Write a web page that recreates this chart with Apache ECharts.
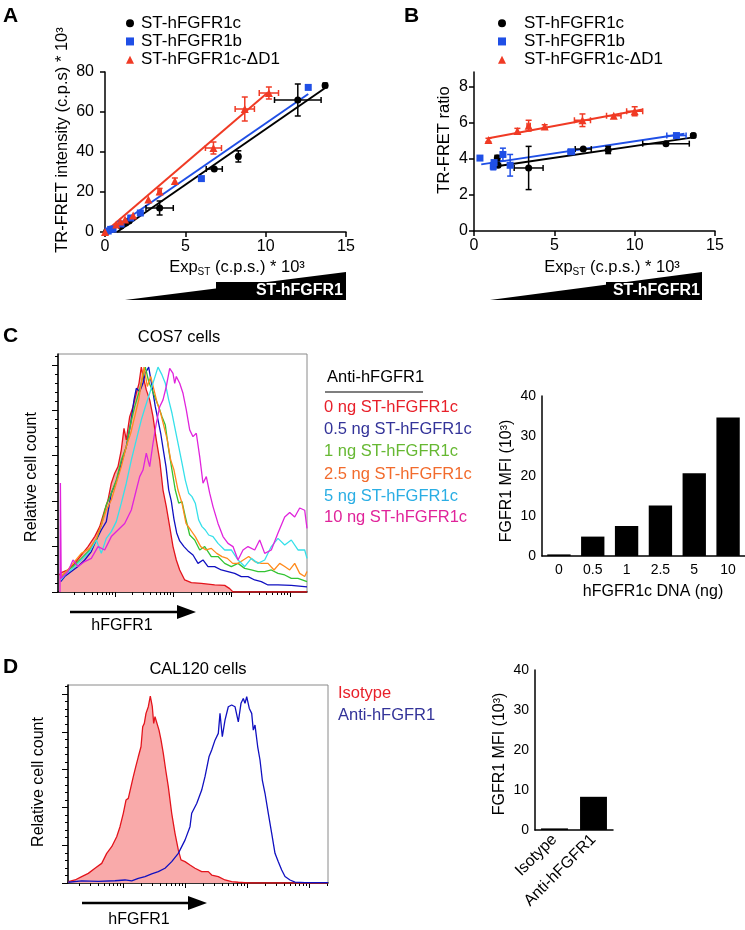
<!DOCTYPE html>
<html><head><meta charset="utf-8">
<script src="https://cdn.jsdelivr.net/npm/echarts@6/dist/echarts.min.js"></script>
<style>html,body{margin:0;padding:0;background:#fff}#c{width:745px;height:930px}</style>
</head><body><div id="c"></div>
<script>
const FONT = '"Liberation Sans", Arial, Helvetica, sans-serif';

// ---------- Panel A / B data: [x, y, xErr, yErr] ----------
const seriesNames = ['ST-hFGFR1c', 'ST-hFGFR1b', 'ST-hFGFR1c-ΔD1'];
const A_c  = [[0.1,0.3,0,0],[1.0,3.0,0,0],[1.3,4.5,0,0],[1.5,5.5,0,0],[3.4,12,0.85,3.5],[6.8,31.5,0.5,0],[8.3,37.8,0.1,2.8],[12.0,66,1.45,8],[13.7,73.3,0.1,1]];
const A_b  = [[0.2,0.5,0,0],[0.35,1.3,0,0],[0.5,1.5,0,0],[1.0,4,0,0],[1.6,7,0,0],[2.2,9.5,0,0],[6.0,26.7,0,0],[12.65,72.3,0,0]];
const A_d1 = [[0,0,0,0],[0.7,3.7,0,0],[0.95,5.3,0,0],[1.25,6.2,0,0],[1.75,8.2,0,0],[2.7,16.2,0,0],[3.4,20.3,0.1,1.5],[4.35,25.5,0,1.5],[6.75,42,0.5,3],[8.7,61.5,0.6,6],[10.2,69.5,0.6,3]];
const A_fit_c  = [[0.75,0],[13.7,72]];
const A_fit_b  = [[0.2,0],[12.65,69]];
const A_fit_d1 = [[0,0],[10.1,69.5]];

const B_c  = [[1.45,4.05,0,0.15],[1.5,3.65,0,0],[3.4,3.5,0.9,1.2],[6.8,4.55,0.5,0],[8.35,4.5,0.1,0.2],[11.95,4.85,1.45,0],[13.65,5.3,0.1,0.1]];
const B_b  = [[0.37,4.05,0,0.1],[1.2,3.6,0,0.2],[1.25,3.8,0,0],[1.8,4.25,0,0.35],[2.25,3.65,0,0.6],[6.05,4.4,0.2,0],[12.6,5.3,0.6,0.1]];
const B_d1 = [[0.9,5.05,0,0.1],[2.7,5.55,0,0.15],[3.4,5.85,0.1,0.3],[4.4,5.8,0,0.1],[6.75,6.15,0.5,0.35],[8.7,6.4,0.45,0],[10.0,6.65,0.5,0.25]];
const B_fit_c  = [[1.2,3.57],[13.65,5.2]];
const B_fit_b  = [[0.45,3.7],[13.1,5.4]];
const B_fit_d1 = [[0.9,5.15],[10.5,6.75]];

// ---------- Panel C histograms: [channel, % of max] ----------
const C_names = ['0 ng ST-hFGFR1c','0.5 ng ST-hFGFR1c','1 ng ST-hFGFR1c','2.5 ng ST-hFGFR1c','5 ng ST-hFGFR1c','10 ng ST-hFGFR1c'];
const C_red = [[1,7.5],[3.3,8.5],[10,9.7],[16.7,12.6],[23.3,16.3],[30,20],[36.7,24.4],[41.7,28.8],[46.7,36.1],[50,40.5],[53.3,47.9],[56.7,52.3],[60,55.2],[63.3,62.6],[66,72.1],[68.3,67],[71.7,77.2],[75,81.6],[78.3,87.5],[81,91.9],[83.3,99],[86,93.4],[88.3,89],[91.7,84.6],[95,77.2],[98.3,67],[101.7,58.1],[105,44.9],[108.3,37.6],[111.7,28.8],[115,20],[118.3,14.1],[121.7,9.7],[126.7,5.3],[133.3,4.1],[143.3,3.8],[156.7,3.1],[166.7,2.9],[171.7,1.5],[175,0],[249,0]];
const C_blue = [[2.7,4.6],[6.7,6.8],[13.3,9],[20,11.2],[26.7,14.1],[33.3,17.8],[38.3,22.9],[43.3,27.3],[48.3,31],[53.3,43.5],[58.3,48.6],[63.3,56.7],[68.3,64],[72.7,74.3],[76,84.6],[78.3,89.7],[81.7,88.3],[85,91.9],[87.3,96.3],[90.7,99],[94,90.5],[97.3,81.6],[100,75.8],[102.7,69.9],[105.3,62.6],[108,55.2],[110.7,45],[113.3,40],[116,32],[118.7,26],[121.7,22.5],[126,20],[130.7,17.8],[135,16.3],[140,12.6],[145,14.1],[150,11.2],[156.7,11.2],[163.3,9.7],[170,9],[176.7,8.2],[183.3,6.8],[190,6.8],[196.7,5.3],[203.3,4.6],[210,3.1],[220,3.1],[233.3,2.9],[249,2.3]];
const C_green = [[2.7,6],[8.3,9],[15,11.2],[23.3,14.8],[31.7,18.5],[38.3,22.9],[43.3,29.5],[48.3,38.3],[53.3,43.5],[58.3,49.3],[63.3,58.1],[68.3,64],[72.7,74.3],[76.7,81.6],[80.7,87.5],[84,93.4],[87.3,99],[90.7,92.7],[94,89],[97.3,85.3],[100.7,81.6],[104,77.2],[107.3,73.5],[110.7,62.6],[114,53.7],[117.3,44.9],[120.7,39.1],[124,39.8],[127.3,33.2],[131.7,25.1],[136.7,22.9],[141.7,18.5],[146.7,20],[153.3,15.6],[160,15.6],[166.7,12.6],[173.3,11.2],[180,12.6],[186.7,10.4],[193.3,9.7],[200,9],[206.7,9],[213.3,9.7],[220,8.2],[226.7,7.5],[233.3,6],[240,6],[249,4.6]];
const C_orange = [[2.7,6.8],[8.3,9],[15,12.6],[23.3,17],[31.7,19.2],[38.3,23.6],[43.3,29.5],[48.3,36.1],[53.3,40.5],[58.3,47.9],[63.3,55.2],[68.3,64],[72.7,69.9],[76.7,77.2],[80.7,84.6],[83.3,91.9],[86,99],[89.3,90.5],[92.7,94.9],[96,89],[99.3,83.1],[102.7,78.7],[106,72.8],[109.3,67],[112.7,58.1],[116,53.7],[120,44.9],[124,39.1],[128,30.2],[132.7,27.3],[137.3,24.4],[142.7,20],[148,18.5],[153.3,19.2],[158.7,17],[164,15.6],[169.3,14.8],[174.7,12.6],[180,12.6],[185.3,14.1],[190.7,15.6],[196.7,13.4],[203.3,12.6],[210,12.6],[216,9.7],[221.7,12.6],[226.7,11.2],[231.7,9.7],[236.7,12.6],[241.7,8.2],[246.7,6.8],[249,9]];
const C_cyan = [[2.7,5.3],[8.3,8.2],[15,10.4],[23.3,14.1],[31.7,17.8],[38.3,22.9],[43.3,17],[48.3,23.6],[53.3,26.6],[58.3,31],[63.3,39.1],[68.3,47.9],[73.3,58.1],[78.3,67],[83.3,75.8],[87.3,81.6],[91.7,87.5],[96,93.4],[100,99],[104,95.6],[107.3,91.9],[110.7,84.6],[114,78.7],[117.3,71.4],[120.7,64],[124,56.7],[127.3,49.3],[130.7,43.5],[134,42],[137.3,39.1],[140.7,31.7],[144,28.8],[147.3,27.3],[150.7,25.1],[155,24.4],[160,21.4],[166.7,18.5],[173.3,18.5],[180,14.1],[186.7,11.2],[193.3,14.8],[200,12.6],[206.7,14.1],[213.3,20],[220,23.6],[226.7,20.7],[233.3,22.9],[240,18.5],[246.7,18.5],[249,14.8]];
const C_magenta = [[2,0],[2.4,48],[3.2,6],[10,9],[15,14.1],[20,11.2],[26.7,13.4],[33.3,14.8],[40,20],[46.7,18.5],[53.3,24.4],[60,27.3],[66.7,30.2],[73.3,36.1],[78.3,44.9],[81.7,50.8],[85,53.7],[88.3,61.1],[91.7,55.2],[95,65.5],[98.3,74.3],[101.7,81.6],[105,84.6],[108.3,90.5],[111.7,98.5],[115,96.3],[116.7,91.9],[118.3,94.9],[121.7,91.9],[125,87.5],[128.3,80.2],[131.7,71.4],[135,68.4],[138.3,69.9],[141.7,59.6],[145,47.9],[148.3,50.8],[151.7,43.5],[155,37.6],[160,30.2],[165,24.4],[170,21.4],[175,20],[180,14.1],[185,18.5],[190,20],[196.7,18.5],[201.7,22.9],[206.7,17],[213.3,18.5],[220,26],[226.7,33],[231.7,35],[236.7,33],[241.7,37],[246.7,36],[249,28]];

// ---------- Panel C bar ----------
const C_barCats = ['0','0.5','1','2.5','5','10'];
const C_barVals = [0.4, 4.85, 7.5, 12.6, 20.7, 34.6];

// ---------- Panel D histograms ----------
const D_red = [[0.3,0.7],[7,1.6],[13.7,3.4],[20.3,5.1],[27,7.8],[33.7,10.4],[38.7,15.7],[43.7,19.2],[48.7,24.5],[52,29.8],[55.3,36.9],[58,43.9],[60.3,44.8],[63,51],[65.3,56.3],[67.7,61.5],[70.3,66.8],[73,72.1],[74.7,82.7],[76.3,84.5],[78,89.8],[80.3,93.3],[82.3,98.9],[84.3,93.3],[85.7,84.5],[87,88],[89,88],[91,80.9],[93,75.7],[95.3,68.6],[97.7,59.8],[100.3,51],[103.7,36.9],[107,26.3],[110.3,17.5],[113,12.2],[117,11.3],[122,9.5],[127,7.8],[133.7,6],[140.3,6],[143.7,4.2],[150.3,3.4],[157,1.6],[163.7,0.7],[170.3,0.4],[180.3,0],[260,0]];
const D_blue = [[0.3,0.4],[13.7,1.1],[30.3,0.9],[47,1.2],[57,1.6],[63.7,1.1],[70.3,2.5],[77,3.4],[83.7,4.8],[90.3,6],[97,7.8],[103.7,11.3],[110.3,15.7],[117,22.7],[122,29.8],[123.7,36.9],[128.7,42.1],[133.7,49.2],[137,56.3],[141,66.8],[143.7,70.4],[147,75.6],[150.3,79.2],[152,89.8],[154.3,77.4],[157,86.2],[160.3,93.3],[163.7,94.2],[167,93.3],[170.3,85.3],[173,95.1],[175.3,97.7],[177,95.1],[178.7,98.6],[181.3,92.4],[183.7,89.8],[185.3,80.9],[187,83.6],[189.7,72.1],[192,65.1],[194.3,54.5],[197,47.5],[200.3,36.9],[203.7,26.3],[207,15.7],[210.3,11.3],[213.7,6.9],[217,3.4],[222,1.6],[227,0.5],[237,0.2],[260,0.2]];
const D_names = ['Isotype', 'Anti-hFGFR1'];
const D_barCats = ['Isotype', 'Anti-hFGFR1'];
const D_barVals = [0.4, 8.3];

// ---------- axis tick helpers ----------
const C_decades = [-1.3, 57, 115.3, 173.6, 231.9];
const D_decades = [-7, 55, 117, 179, 241];
function logTicks(decades, step, maxCh) {
  const minor = [], major = [];
  decades.forEach(d => {
    for (let k = 1; k <= 9; k++) {
      const v = d + step * Math.log10(k);
      if (v >= 0 && v <= maxCh) (k === 1 ? major : minor).push(+v.toFixed(2));
    }
  });
  return { minor, major };
}
const Cx = logTicks(C_decades, 58.3, 249);
const Dx = logTicks(D_decades, 62, 260);
const histMajorY = [0, 20, 40, 60, 80, 100];
const histMinorY = [];
for (let v = 4; v <= 104; v += 4) if (v % 20) histMinorY.push(v);

const COL = { black: '#000000', blue: '#1f4fe6', red: '#f03a24' };
const HC = { red: '#e3141c', blue: '#1010c0', green: '#33c433', orange: '#ff8a1c', cyan: '#36e0ea', magenta: '#e024dc' };

const axLine = { show: true, lineStyle: { color: '#000', width: 1.5 } };
const lbl = { color: '#000', fontSize: 14, fontFamily: FONT };
const lblAB = { color: '#000', fontSize: 16, fontFamily: FONT };

function errRender(color) {
  return function (params, api) {
    const x = api.value(0), y = api.value(1), xe = api.value(2), ye = api.value(3);
    const ch = [], cap = 3, st = { stroke: color, lineWidth: 1.5 };
    if (ye > 0) {
      const p1 = api.coord([x, y - ye]), p2 = api.coord([x, y + ye]);
      ch.push({ type: 'line', shape: { x1: p1[0], y1: p1[1], x2: p2[0], y2: p2[1] }, style: st });
      ch.push({ type: 'line', shape: { x1: p1[0] - cap, y1: p1[1], x2: p1[0] + cap, y2: p1[1] }, style: st });
      ch.push({ type: 'line', shape: { x1: p2[0] - cap, y1: p2[1], x2: p2[0] + cap, y2: p2[1] }, style: st });
    }
    if (xe > 0) {
      const p1 = api.coord([x - xe, y]), p2 = api.coord([x + xe, y]);
      ch.push({ type: 'line', shape: { x1: p1[0], y1: p1[1], x2: p2[0], y2: p2[1] }, style: st });
      ch.push({ type: 'line', shape: { x1: p1[0], y1: p1[1] - cap, x2: p1[0], y2: p1[1] + cap }, style: st });
      ch.push({ type: 'line', shape: { x1: p2[0], y1: p2[1] - cap, x2: p2[0], y2: p2[1] + cap }, style: st });
    }
    return { type: 'group', children: ch };
  };
}

function scatterSet(ax, data, name, color, symbol, size) {
  return [
    { type: 'custom', xAxisIndex: ax, yAxisIndex: ax, data: data, encode: { x: 0, y: 1 }, renderItem: errRender(color), z: 3, silent: true },
    { type: 'scatter', name: name, xAxisIndex: ax, yAxisIndex: ax, data: data.map(d => [d[0], d[1]]), symbol: symbol, symbolSize: size, itemStyle: { color: color, opacity: 1 }, z: 4 }
  ];
}
function fitLine(ax, data, color) {
  return { type: 'line', xAxisIndex: ax, yAxisIndex: ax, data: data, showSymbol: false, symbol: 'none', lineStyle: { color: color, width: 2 }, z: 2, silent: true };
}
function histLine(xa, ya, data, color, fill) {
  const s = { type: 'line', xAxisIndex: xa, yAxisIndex: ya, data: data, showSymbol: false, symbol: 'none', lineStyle: { color: color, width: 1.3 }, z: 2, silent: true };
  if (fill) { s.areaStyle = { color: fill, opacity: 1 }; s.z = 1; }
  return s;
}

const series = [].concat(
  scatterSet(0, A_c, seriesNames[0], COL.black, 'circle', 7),
  scatterSet(0, A_b, seriesNames[1], COL.blue, 'rect', 7),
  scatterSet(0, A_d1, seriesNames[2], COL.red, 'triangle', 8),
  [fitLine(0, A_fit_c, COL.black), fitLine(0, A_fit_b, COL.blue), fitLine(0, A_fit_d1, COL.red)],
  scatterSet(1, B_c, seriesNames[0], COL.black, 'circle', 7),
  scatterSet(1, B_b, seriesNames[1], COL.blue, 'rect', 7),
  scatterSet(1, B_d1, seriesNames[2], COL.red, 'triangle', 8),
  [fitLine(1, B_fit_c, COL.black), fitLine(1, B_fit_b, COL.blue), fitLine(1, B_fit_d1, COL.red)],
  [
    histLine(2, 2, C_red, HC.red, '#f9aaaa'),
    histLine(2, 2, C_blue, HC.blue),
    histLine(2, 2, C_green, HC.green),
    histLine(2, 2, C_orange, HC.orange),
    histLine(2, 2, C_cyan, HC.cyan),
    histLine(2, 2, C_magenta, HC.magenta),
    { type: 'bar', xAxisIndex: 4, yAxisIndex: 4, data: C_barVals, barWidth: '69%', itemStyle: { color: '#000' }, silent: true },
    histLine(5, 5, D_red, HC.red, '#f9aaaa'),
    histLine(5, 5, D_blue, HC.blue),
    { type: 'bar', xAxisIndex: 7, yAxisIndex: 7, data: D_barVals, barWidth: '69%', itemStyle: { color: '#000' }, silent: true }
  ]
);

const hidden = { show: false };
function histX(gi, max, ticks, len, showLine) {
  return { type: 'value', gridIndex: gi, position: 'bottom', min: 0, max: max,
    axisLine: showLine ? axLine : { show: false },
    axisTick: { show: true, inside: false, length: len, customValues: ticks, lineStyle: { color: '#000', width: 1 } },
    axisLabel: hidden, splitLine: hidden };
}
function histY(gi, ticks, len, showLine) {
  return { type: 'value', gridIndex: gi, position: 'left', min: 0, max: 104.8,
    axisLine: showLine ? axLine : { show: false },
    axisTick: { show: true, length: len, customValues: ticks, lineStyle: { color: '#000', width: 1 } },
    axisLabel: hidden, splitLine: hidden };
}

const option = {
  animation: false,
  backgroundColor: '#fff',
  textStyle: { fontFamily: FONT },
  grid: [
    { left: 105, top: 72, width: 241, height: 160 },
    { left: 474, top: 72, width: 241, height: 159 },
    { left: 58, top: 354, width: 249, height: 238, show: true, borderColor: '#8a8a8a', borderWidth: 1 },
    { left: 542, top: 396, width: 203, height: 160 },
    { left: 68, top: 685, width: 260, height: 198, show: true, borderColor: '#8a8a8a', borderWidth: 1 },
    { left: 535, top: 670, width: 78, height: 160 }
  ],
  xAxis: [
    { type: 'value', gridIndex: 0, min: 0, max: 15, interval: 5, axisLine: axLine, axisTick: { length: 5, lineStyle: { color: '#000', width: 1.5 } }, axisLabel: Object.assign({ margin: 7 }, lblAB), splitLine: hidden },
    { type: 'value', gridIndex: 1, min: 0, max: 15, interval: 5, axisLine: axLine, axisTick: { length: 5, lineStyle: { color: '#000', width: 1.5 } }, axisLabel: Object.assign({ margin: 7 }, lblAB), splitLine: hidden },
    histX(2, 249, Cx.minor, 3, true),
    histX(2, 249, Cx.major, 5, false),
    { type: 'category', gridIndex: 3, data: C_barCats, axisLine: axLine, axisTick: { alignWithLabel: true, length: 5, lineStyle: { color: '#000', width: 1.5 } }, axisLabel: Object.assign({ margin: 7, interval: 0 }, lbl) },
    histX(4, 260, Dx.minor, 3, true),
    histX(4, 260, Dx.major, 5, false),
    { type: 'category', gridIndex: 5, data: D_barCats, axisLine: axLine, axisTick: { alignWithLabel: true, length: 5, lineStyle: { color: '#000', width: 1.5 } }, axisLabel: Object.assign({ margin: 7, interval: 0, rotate: 45 }, lbl, { fontSize: 16 }) }
  ],
  yAxis: [
    { type: 'value', gridIndex: 0, min: 0, max: 80, interval: 20, axisLine: axLine, axisTick: { length: 5, lineStyle: { color: '#000', width: 1.5 } }, axisLabel: Object.assign({ margin: 11 }, lblAB), splitLine: hidden },
    { type: 'value', gridIndex: 1, min: 0, max: 8.83, axisLine: axLine, axisTick: { length: 5, customValues: [0, 2, 4, 6, 8], lineStyle: { color: '#000', width: 1.5 } }, axisLabel: Object.assign({ margin: 6, customValues: [0, 2, 4, 6, 8] }, lblAB), splitLine: hidden },
    histY(2, histMajorY, 6, true),
    histY(2, histMinorY, 3, false),
    { type: 'value', gridIndex: 3, min: 0, max: 40, interval: 10, axisLine: axLine, axisTick: { length: 5, lineStyle: { color: '#000', width: 1.5 } }, axisLabel: Object.assign({ margin: 6 }, lbl), splitLine: hidden },
    histY(4, histMajorY, 6, true),
    histY(4, histMinorY, 3, false),
    { type: 'value', gridIndex: 5, min: 0, max: 40, interval: 10, axisLine: axLine, axisTick: { length: 5, lineStyle: { color: '#000', width: 1.5 } }, axisLabel: Object.assign({ margin: 6 }, lbl), splitLine: hidden }
  ],
  legend: [
    { data: seriesNames, orient: 'vertical', left: 121, top: 9, itemWidth: 8, itemHeight: 8, itemGap: 0, selectedMode: false,
      textStyle: { fontSize: 17, fontFamily: FONT, color: '#000', lineHeight: 18.3, padding: [0, 0, 0, 2] } },
    { data: seriesNames, orient: 'vertical', left: 493, top: 9, itemWidth: 8, itemHeight: 8, itemGap: 0, selectedMode: false,
      textStyle: { fontSize: 17, fontFamily: FONT, color: '#000', lineHeight: 18.3, padding: [0, 0, 0, 13] } }
  ],
  series: series,
  graphic: [
    // panel letters
    { type: 'text', left: 3, top: 6, style: { text: 'A', font: 'bold 21px ' + FONT, fill: '#000' } },
    { type: 'text', left: 404, top: 6, style: { text: 'B', font: 'bold 21px ' + FONT, fill: '#000' } },
    { type: 'text', left: 3, top: 326, style: { text: 'C', font: 'bold 21px ' + FONT, fill: '#000' } },
    { type: 'text', left: 3, top: 657, style: { text: 'D', font: 'bold 21px ' + FONT, fill: '#000' } },
    // axis titles A/B
    { type: 'text', x: 62, y: 140, rotation: Math.PI / 2, style: { text: 'TR-FRET intensity (c.p.s) * 10³', font: '16.5px ' + FONT, fill: '#000', align: 'center', verticalAlign: 'middle' } },
    { type: 'text', x: 444, y: 140, rotation: Math.PI / 2, style: { text: 'TR-FRET ratio', font: '16.5px ' + FONT, fill: '#000', align: 'center', verticalAlign: 'middle' } },
    { type: 'text', x: 237, y: 267, style: { text: '{a|Exp}{s|ST}{a| (c.p.s.) * 10³}', align: 'center', verticalAlign: 'middle',
      rich: { a: { fontSize: 16.5, fontFamily: FONT, fill: '#000', lineHeight: 20, verticalAlign: 'middle' }, s: { fontSize: 10, fontFamily: FONT, fill: '#000', lineHeight: 20, verticalAlign: 'bottom', padding: [6, 0, 0, 0] } } } },
    { type: 'text', x: 612, y: 267, style: { text: '{a|Exp}{s|ST}{a| (c.p.s.) * 10³}', align: 'center', verticalAlign: 'middle',
      rich: { a: { fontSize: 16.5, fontFamily: FONT, fill: '#000', lineHeight: 20, verticalAlign: 'middle' }, s: { fontSize: 10, fontFamily: FONT, fill: '#000', lineHeight: 20, verticalAlign: 'bottom', padding: [6, 0, 0, 0] } } } },
    // wedges
    { type: 'polygon', shape: { points: [[125, 300], [346, 272], [346, 300]] }, style: { fill: '#000' } },
    { type: 'rect', shape: { x: 216, y: 282, width: 130, height: 18 }, style: { fill: '#000' } },
    { type: 'text', x: 343, y: 291, style: { text: 'ST-hFGFR1', font: 'bold 16px ' + FONT, fill: '#fff', align: 'right', verticalAlign: 'middle' } },
    { type: 'polygon', shape: { points: [[490, 300], [702, 272], [702, 300]] }, style: { fill: '#000' } },
    { type: 'rect', shape: { x: 606, y: 282, width: 96, height: 18 }, style: { fill: '#000' } },
    { type: 'text', x: 700, y: 291, style: { text: 'ST-hFGFR1', font: 'bold 16px ' + FONT, fill: '#fff', align: 'right', verticalAlign: 'middle' } },
    // panel C texts
    { type: 'text', x: 179, y: 337, style: { text: 'COS7 cells', font: '16.5px ' + FONT, fill: '#000', align: 'center', verticalAlign: 'middle' } },
    { type: 'text', x: 32, y: 477, rotation: Math.PI / 2, style: { text: 'Relative cell count', font: '16px ' + FONT, fill: '#000', align: 'center', verticalAlign: 'middle' } },
    { type: 'line', shape: { x1: 70, y1: 612, x2: 182, y2: 612 }, style: { stroke: '#000', lineWidth: 2.5 } },
    { type: 'polygon', shape: { points: [[177, 605], [196, 612], [177, 619]] }, style: { fill: '#000' } },
    { type: 'text', x: 122, y: 626, style: { text: 'hFGFR1', font: '16px ' + FONT, fill: '#000', align: 'center', verticalAlign: 'middle' } },
    { type: 'text', x: 327, y: 377, style: { text: 'Anti-hFGFR1', font: '16.5px ' + FONT, fill: '#000', align: 'left', verticalAlign: 'middle' } },
    { type: 'line', shape: { x1: 325, y1: 392, x2: 423, y2: 392 }, style: { stroke: '#000', lineWidth: 1.2 } },
    { type: 'text', x: 324, y: 407, style: { text: C_names[0], font: '16.5px ' + FONT, fill: '#e8202a', verticalAlign: 'middle' } },
    { type: 'text', x: 324, y: 429, style: { text: C_names[1], font: '16.5px ' + FONT, fill: '#333399', verticalAlign: 'middle' } },
    { type: 'text', x: 324, y: 451, style: { text: C_names[2], font: '16.5px ' + FONT, fill: '#66b832', verticalAlign: 'middle' } },
    { type: 'text', x: 324, y: 474, style: { text: C_names[3], font: '16.5px ' + FONT, fill: '#f26b2c', verticalAlign: 'middle' } },
    { type: 'text', x: 324, y: 496, style: { text: C_names[4], font: '16.5px ' + FONT, fill: '#2aaee4', verticalAlign: 'middle' } },
    { type: 'text', x: 324, y: 517, style: { text: C_names[5], font: '16.5px ' + FONT, fill: '#e0239a', verticalAlign: 'middle' } },
    { type: 'text', x: 507, y: 481, rotation: Math.PI / 2, style: { text: 'FGFR1 MFI (10³)', font: '16px ' + FONT, fill: '#000', align: 'center', verticalAlign: 'middle' } },
    { type: 'text', x: 653, y: 592, style: { text: 'hFGFR1c DNA (ng)', font: '16px ' + FONT, fill: '#000', align: 'center', verticalAlign: 'middle' } },
    // panel D texts
    { type: 'text', x: 198, y: 669, style: { text: 'CAL120 cells', font: '16.5px ' + FONT, fill: '#000', align: 'center', verticalAlign: 'middle' } },
    { type: 'text', x: 39, y: 782, rotation: Math.PI / 2, style: { text: 'Relative cell count', font: '16px ' + FONT, fill: '#000', align: 'center', verticalAlign: 'middle' } },
    { type: 'line', shape: { x1: 82, y1: 903, x2: 192, y2: 903 }, style: { stroke: '#000', lineWidth: 2.5 } },
    { type: 'polygon', shape: { points: [[188, 896], [207, 903], [188, 910]] }, style: { fill: '#000' } },
    { type: 'text', x: 139, y: 920, style: { text: 'hFGFR1', font: '16px ' + FONT, fill: '#000', align: 'center', verticalAlign: 'middle' } },
    { type: 'text', x: 338, y: 693, style: { text: D_names[0], font: '16.5px ' + FONT, fill: '#e8202a', verticalAlign: 'middle' } },
    { type: 'text', x: 338, y: 715, style: { text: D_names[1], font: '16.5px ' + FONT, fill: '#333399', verticalAlign: 'middle' } },
    { type: 'text', x: 500, y: 754, rotation: Math.PI / 2, style: { text: 'FGFR1 MFI (10³)', font: '16px ' + FONT, fill: '#000', align: 'center', verticalAlign: 'middle' } }
  ]
};

const chart = echarts.init(document.getElementById('c'), null, { renderer: 'canvas' });
chart.setOption(option);
</script>
</body></html>
